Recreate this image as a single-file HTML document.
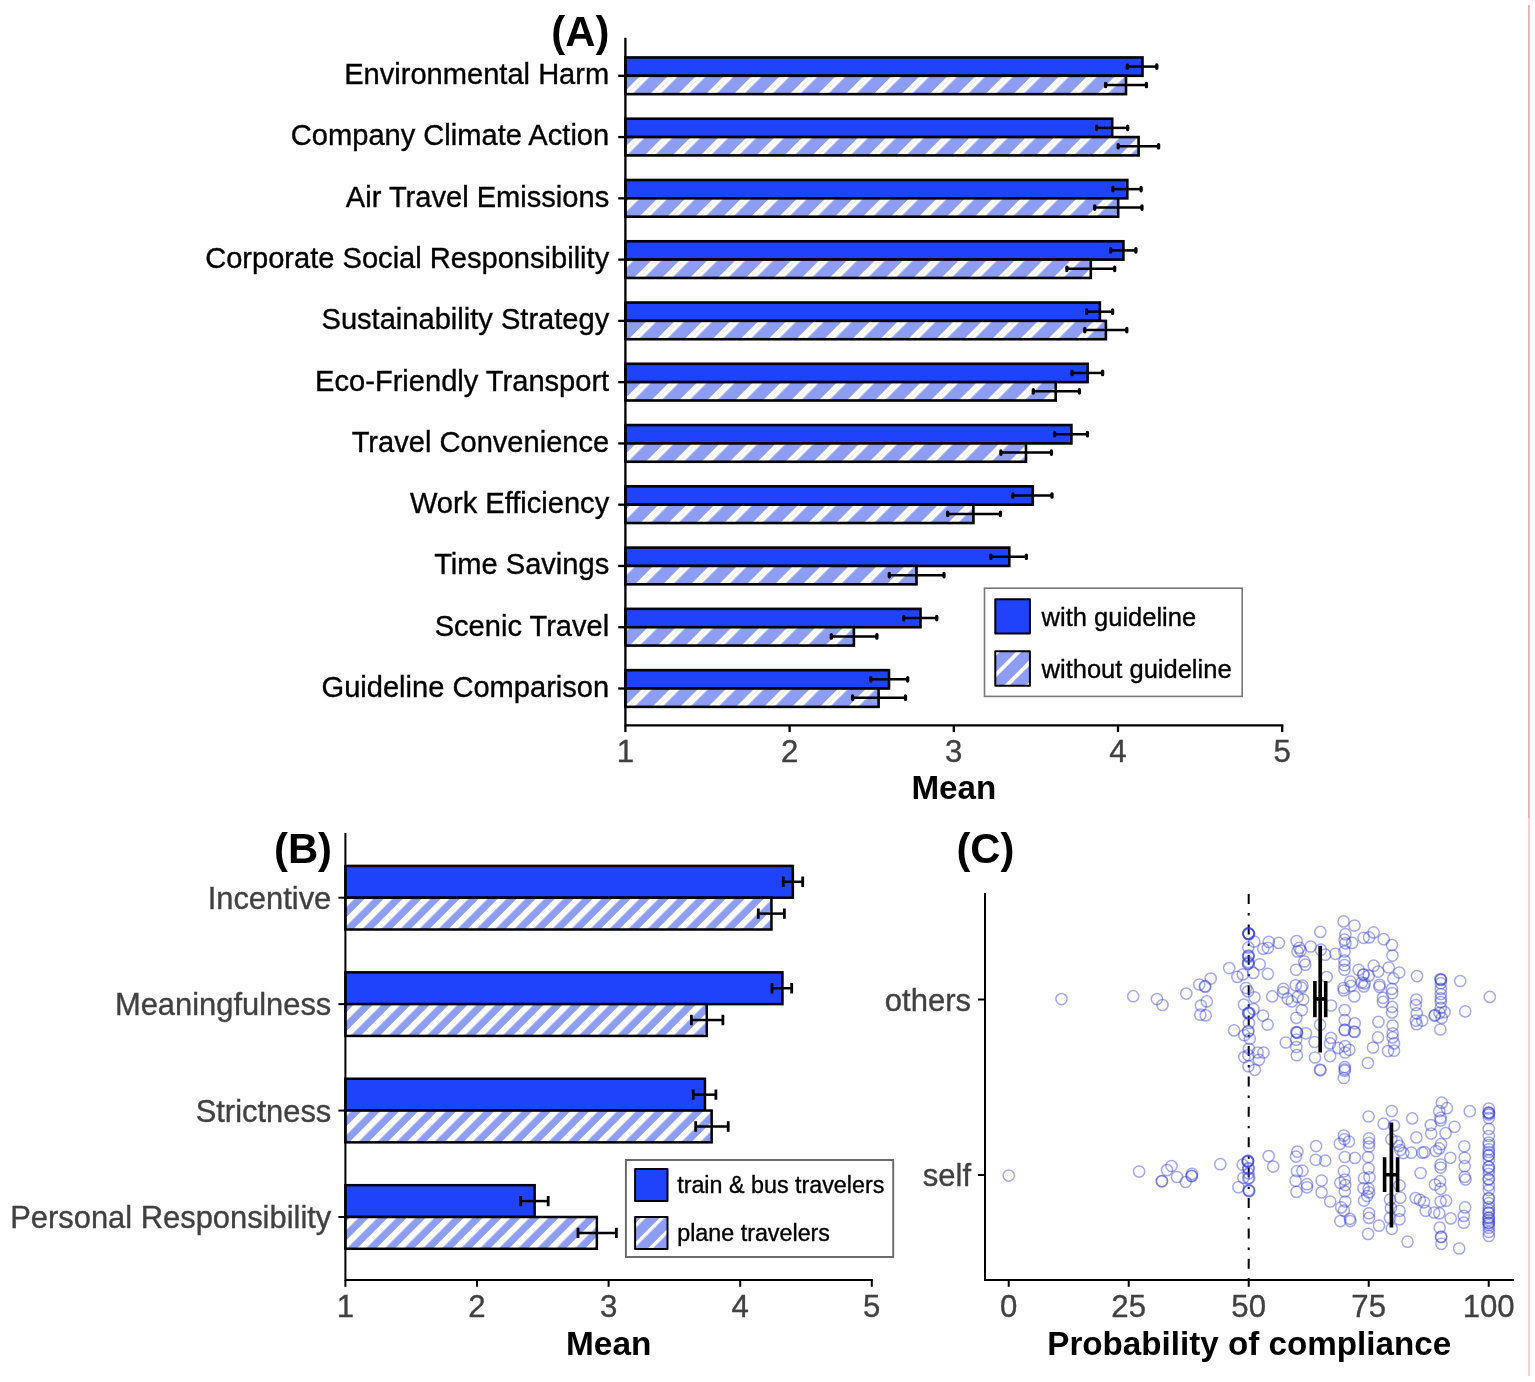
<!DOCTYPE html><html><head><meta charset="utf-8"><style>html,body{margin:0;padding:0;background:#fff;}svg{display:block;}</style></head><body><svg width="1535" height="1382" viewBox="0 0 1535 1382" font-family="Liberation Sans, Arial, Helvetica, sans-serif">
<style>.k{stroke:#000;stroke-width:0.35px}.g{stroke:#404040;stroke-width:0.35px}</style>
<defs>
<pattern id="hA" patternUnits="userSpaceOnUse" x="12.304" y="0" width="19.764" height="40" patternTransform="rotate(45)"><rect x="-1" y="-1" width="21.764" height="42" fill="#8c9df3"/><rect x="0" y="-1" width="7.212" height="42" fill="#ffffff"/><rect x="3.256" y="-1" width="0.7" height="42" fill="#d6dabf" fill-opacity="0.7"/></pattern>
<pattern id="hAk" patternUnits="userSpaceOnUse" x="13.152" y="0" width="15.344" height="40" patternTransform="rotate(45)"><rect x="-1" y="-1" width="17.344" height="42" fill="#8c9df3"/><rect x="0" y="-1" width="3.889" height="42" fill="#ffffff"/></pattern>
<pattern id="hB" patternUnits="userSpaceOnUse" x="6.718" y="0" width="13.435" height="40" patternTransform="rotate(45)"><rect x="-1" y="-1" width="15.435" height="42" fill="#8c9df3"/><rect x="0" y="-1" width="6.223" height="42" fill="#ffffff"/></pattern>
<pattern id="hBk" patternUnits="userSpaceOnUse" x="11.526" y="0" width="13.294" height="40" patternTransform="rotate(45)"><rect x="-1" y="-1" width="15.294" height="42" fill="#8c9df3"/><rect x="0" y="-1" width="3.394" height="42" fill="#ffffff"/></pattern>
</defs>
<rect width="1535" height="1382" fill="#ffffff"/>
<rect x="625.40" y="57.45" width="517.10" height="18.35" fill="#1f43fa" stroke="#000" stroke-width="2.6"/>
<rect x="625.40" y="75.80" width="500.60" height="18.35" fill="url(#hA)" stroke="#000" stroke-width="2.6"/>
<rect x="625.40" y="118.72" width="486.80" height="18.35" fill="#1f43fa" stroke="#000" stroke-width="2.6"/>
<rect x="625.40" y="137.07" width="513.20" height="18.35" fill="url(#hA)" stroke="#000" stroke-width="2.6"/>
<rect x="625.40" y="179.99" width="501.90" height="18.35" fill="#1f43fa" stroke="#000" stroke-width="2.6"/>
<rect x="625.40" y="198.34" width="492.80" height="18.35" fill="url(#hA)" stroke="#000" stroke-width="2.6"/>
<rect x="625.40" y="241.26" width="498.00" height="18.35" fill="#1f43fa" stroke="#000" stroke-width="2.6"/>
<rect x="625.40" y="259.61" width="465.40" height="18.35" fill="url(#hA)" stroke="#000" stroke-width="2.6"/>
<rect x="625.40" y="302.53" width="474.50" height="18.35" fill="#1f43fa" stroke="#000" stroke-width="2.6"/>
<rect x="625.40" y="320.88" width="480.50" height="18.35" fill="url(#hA)" stroke="#000" stroke-width="2.6"/>
<rect x="625.40" y="363.80" width="462.20" height="18.35" fill="#1f43fa" stroke="#000" stroke-width="2.6"/>
<rect x="625.40" y="382.15" width="430.30" height="18.35" fill="url(#hA)" stroke="#000" stroke-width="2.6"/>
<rect x="625.40" y="425.07" width="446.00" height="18.35" fill="#1f43fa" stroke="#000" stroke-width="2.6"/>
<rect x="625.40" y="443.42" width="400.60" height="18.35" fill="url(#hA)" stroke="#000" stroke-width="2.6"/>
<rect x="625.40" y="486.34" width="407.40" height="18.35" fill="#1f43fa" stroke="#000" stroke-width="2.6"/>
<rect x="625.40" y="504.69" width="348.00" height="18.35" fill="url(#hA)" stroke="#000" stroke-width="2.6"/>
<rect x="625.40" y="547.61" width="383.90" height="18.35" fill="#1f43fa" stroke="#000" stroke-width="2.6"/>
<rect x="625.40" y="565.96" width="291.10" height="18.35" fill="url(#hA)" stroke="#000" stroke-width="2.6"/>
<rect x="625.40" y="608.88" width="295.10" height="18.35" fill="#1f43fa" stroke="#000" stroke-width="2.6"/>
<rect x="625.40" y="627.23" width="228.50" height="18.35" fill="url(#hA)" stroke="#000" stroke-width="2.6"/>
<rect x="625.40" y="670.15" width="263.60" height="18.35" fill="#1f43fa" stroke="#000" stroke-width="2.6"/>
<rect x="625.40" y="688.50" width="253.20" height="18.35" fill="url(#hA)" stroke="#000" stroke-width="2.6"/>
<path d="M1127.30 66.60H1156.80" stroke="#000" stroke-width="2.5" fill="none"/>
<path d="M1127.30 64.90V68.30M1156.80 64.90V68.30" stroke="#000" stroke-width="3.3" stroke-linecap="round" fill="none"/>
<path d="M1105.60 85.00H1146.40" stroke="#000" stroke-width="2.5" fill="none"/>
<path d="M1105.60 83.30V86.70M1146.40 83.30V86.70" stroke="#000" stroke-width="3.3" stroke-linecap="round" fill="none"/>
<path d="M1096.50 127.87H1127.70" stroke="#000" stroke-width="2.5" fill="none"/>
<path d="M1096.50 126.17V129.57M1127.70 126.17V129.57" stroke="#000" stroke-width="3.3" stroke-linecap="round" fill="none"/>
<path d="M1118.20 146.27H1158.60" stroke="#000" stroke-width="2.5" fill="none"/>
<path d="M1118.20 144.57V147.97M1158.60 144.57V147.97" stroke="#000" stroke-width="3.3" stroke-linecap="round" fill="none"/>
<path d="M1112.90 189.14H1141.10" stroke="#000" stroke-width="2.5" fill="none"/>
<path d="M1112.90 187.44V190.84M1141.10 187.44V190.84" stroke="#000" stroke-width="3.3" stroke-linecap="round" fill="none"/>
<path d="M1094.70 207.54H1142.00" stroke="#000" stroke-width="2.5" fill="none"/>
<path d="M1094.70 205.84V209.24M1142.00 205.84V209.24" stroke="#000" stroke-width="3.3" stroke-linecap="round" fill="none"/>
<path d="M1110.70 250.41H1135.90" stroke="#000" stroke-width="2.5" fill="none"/>
<path d="M1110.70 248.71V252.11M1135.90 248.71V252.11" stroke="#000" stroke-width="3.3" stroke-linecap="round" fill="none"/>
<path d="M1066.90 268.81H1114.70" stroke="#000" stroke-width="2.5" fill="none"/>
<path d="M1066.90 267.11V270.51M1114.70 267.11V270.51" stroke="#000" stroke-width="3.3" stroke-linecap="round" fill="none"/>
<path d="M1086.60 311.68H1112.60" stroke="#000" stroke-width="2.5" fill="none"/>
<path d="M1086.60 309.98V313.38M1112.60 309.98V313.38" stroke="#000" stroke-width="3.3" stroke-linecap="round" fill="none"/>
<path d="M1084.80 330.08H1126.80" stroke="#000" stroke-width="2.5" fill="none"/>
<path d="M1084.80 328.38V331.78M1126.80 328.38V331.78" stroke="#000" stroke-width="3.3" stroke-linecap="round" fill="none"/>
<path d="M1072.00 372.95H1102.60" stroke="#000" stroke-width="2.5" fill="none"/>
<path d="M1072.00 371.25V374.65M1102.60 371.25V374.65" stroke="#000" stroke-width="3.3" stroke-linecap="round" fill="none"/>
<path d="M1033.30 391.35H1079.40" stroke="#000" stroke-width="2.5" fill="none"/>
<path d="M1033.30 389.65V393.05M1079.40 389.65V393.05" stroke="#000" stroke-width="3.3" stroke-linecap="round" fill="none"/>
<path d="M1054.60 434.22H1087.40" stroke="#000" stroke-width="2.5" fill="none"/>
<path d="M1054.60 432.52V435.92M1087.40 432.52V435.92" stroke="#000" stroke-width="3.3" stroke-linecap="round" fill="none"/>
<path d="M1000.90 452.62H1051.40" stroke="#000" stroke-width="2.5" fill="none"/>
<path d="M1000.90 450.92V454.32M1051.40 450.92V454.32" stroke="#000" stroke-width="3.3" stroke-linecap="round" fill="none"/>
<path d="M1012.90 495.49H1052.00" stroke="#000" stroke-width="2.5" fill="none"/>
<path d="M1012.90 493.79V497.19M1052.00 493.79V497.19" stroke="#000" stroke-width="3.3" stroke-linecap="round" fill="none"/>
<path d="M947.70 513.89H1000.40" stroke="#000" stroke-width="2.5" fill="none"/>
<path d="M947.70 512.19V515.59M1000.40 512.19V515.59" stroke="#000" stroke-width="3.3" stroke-linecap="round" fill="none"/>
<path d="M990.90 556.76H1026.30" stroke="#000" stroke-width="2.5" fill="none"/>
<path d="M990.90 555.06V558.46M1026.30 555.06V558.46" stroke="#000" stroke-width="3.3" stroke-linecap="round" fill="none"/>
<path d="M889.30 575.16H944.00" stroke="#000" stroke-width="2.5" fill="none"/>
<path d="M889.30 573.46V576.86M944.00 573.46V576.86" stroke="#000" stroke-width="3.3" stroke-linecap="round" fill="none"/>
<path d="M903.80 618.03H936.80" stroke="#000" stroke-width="2.5" fill="none"/>
<path d="M903.80 616.33V619.73M936.80 616.33V619.73" stroke="#000" stroke-width="3.3" stroke-linecap="round" fill="none"/>
<path d="M831.30 636.43H876.90" stroke="#000" stroke-width="2.5" fill="none"/>
<path d="M831.30 634.73V638.13M876.90 634.73V638.13" stroke="#000" stroke-width="3.3" stroke-linecap="round" fill="none"/>
<path d="M870.80 679.30H907.70" stroke="#000" stroke-width="2.5" fill="none"/>
<path d="M870.80 677.60V681.00M907.70 677.60V681.00" stroke="#000" stroke-width="3.3" stroke-linecap="round" fill="none"/>
<path d="M852.60 697.70H905.50" stroke="#000" stroke-width="2.5" fill="none"/>
<path d="M852.60 696.00V699.40M905.50 696.00V699.40" stroke="#000" stroke-width="3.3" stroke-linecap="round" fill="none"/>
<path d="M625.4 39.0V725.3H1282.20" stroke="#000" stroke-width="2.3" fill="none" stroke-linecap="square"/>
<path d="M625.40 725.3V732.10" stroke="#000" stroke-width="2.3"/>
<text x="625.40" y="762.3" font-size="31.2" class="g" fill="#404040" text-anchor="middle">1</text>
<path d="M789.60 725.3V732.10" stroke="#000" stroke-width="2.3"/>
<text x="789.60" y="762.3" font-size="31.2" class="g" fill="#404040" text-anchor="middle">2</text>
<path d="M953.80 725.3V732.10" stroke="#000" stroke-width="2.3"/>
<text x="953.80" y="762.3" font-size="31.2" class="g" fill="#404040" text-anchor="middle">3</text>
<path d="M1118.00 725.3V732.10" stroke="#000" stroke-width="2.3"/>
<text x="1118.00" y="762.3" font-size="31.2" class="g" fill="#404040" text-anchor="middle">4</text>
<path d="M1282.20 725.3V732.10" stroke="#000" stroke-width="2.3"/>
<text x="1282.20" y="762.3" font-size="31.2" class="g" fill="#404040" text-anchor="middle">5</text>
<path d="M618.20 75.80H625.4" stroke="#000" stroke-width="2.3"/>
<text class="k" transform="translate(609.2 84.20) scale(1 1.03)" font-size="29.1" fill="#000" text-anchor="end">Environmental Harm</text>
<path d="M618.20 137.07H625.4" stroke="#000" stroke-width="2.3"/>
<text class="k" transform="translate(609.2 145.47) scale(1 1.03)" font-size="29.1" fill="#000" text-anchor="end">Company Climate Action</text>
<path d="M618.20 198.34H625.4" stroke="#000" stroke-width="2.3"/>
<text class="k" transform="translate(609.2 206.74) scale(1 1.03)" font-size="29.1" fill="#000" text-anchor="end">Air Travel Emissions</text>
<path d="M618.20 259.61H625.4" stroke="#000" stroke-width="2.3"/>
<text class="k" transform="translate(609.2 268.01) scale(1 1.03)" font-size="29.1" fill="#000" text-anchor="end">Corporate Social Responsibility</text>
<path d="M618.20 320.88H625.4" stroke="#000" stroke-width="2.3"/>
<text class="k" transform="translate(609.2 329.28) scale(1 1.03)" font-size="29.1" fill="#000" text-anchor="end">Sustainability Strategy</text>
<path d="M618.20 382.15H625.4" stroke="#000" stroke-width="2.3"/>
<text class="k" transform="translate(609.2 390.55) scale(1 1.03)" font-size="29.1" fill="#000" text-anchor="end">Eco-Friendly Transport</text>
<path d="M618.20 443.42H625.4" stroke="#000" stroke-width="2.3"/>
<text class="k" transform="translate(609.2 451.82) scale(1 1.03)" font-size="29.1" fill="#000" text-anchor="end">Travel Convenience</text>
<path d="M618.20 504.69H625.4" stroke="#000" stroke-width="2.3"/>
<text class="k" transform="translate(609.2 513.09) scale(1 1.03)" font-size="29.1" fill="#000" text-anchor="end">Work Efficiency</text>
<path d="M618.20 565.96H625.4" stroke="#000" stroke-width="2.3"/>
<text class="k" transform="translate(609.2 574.36) scale(1 1.03)" font-size="29.1" fill="#000" text-anchor="end">Time Savings</text>
<path d="M618.20 627.23H625.4" stroke="#000" stroke-width="2.3"/>
<text class="k" transform="translate(609.2 635.63) scale(1 1.03)" font-size="29.1" fill="#000" text-anchor="end">Scenic Travel</text>
<path d="M618.20 688.50H625.4" stroke="#000" stroke-width="2.3"/>
<text class="k" transform="translate(609.2 696.90) scale(1 1.03)" font-size="29.1" fill="#000" text-anchor="end">Guideline Comparison</text>
<text x="953.8" y="799.2" font-size="33.2" font-weight="bold" fill="#000" text-anchor="middle">Mean</text>
<text x="580.3" y="45.6" font-size="41.8" font-weight="bold" fill="#000" text-anchor="middle">(A)</text>
<rect x="984.5" y="588.2" width="257.7" height="108.2" fill="#fff" stroke="#777" stroke-width="1.6"/>
<rect x="995.3" y="599.2" width="34.6" height="34.2" fill="#1f43fa" stroke="#000" stroke-width="2" stroke-linejoin="round"/>
<rect x="995.3" y="651.3" width="34.6" height="34.5" fill="url(#hAk)" stroke="#000" stroke-width="2" stroke-linejoin="round"/>
<text x="1041.6" y="625.6" class="k" font-size="25.5" fill="#000">with guideline</text>
<text x="1041.6" y="677.6" class="k" font-size="25.5" fill="#000">without guideline</text>
<rect x="345.40" y="865.90" width="447.45" height="31.80" fill="#1f43fa" stroke="#000" stroke-width="2.5"/>
<rect x="345.40" y="897.70" width="426.05" height="31.80" fill="url(#hB)" stroke="#000" stroke-width="2.5"/>
<rect x="345.40" y="972.33" width="437.05" height="31.80" fill="#1f43fa" stroke="#000" stroke-width="2.5"/>
<rect x="345.40" y="1004.13" width="361.35" height="31.80" fill="url(#hB)" stroke="#000" stroke-width="2.5"/>
<rect x="345.40" y="1078.76" width="359.55" height="31.80" fill="#1f43fa" stroke="#000" stroke-width="2.5"/>
<rect x="345.40" y="1110.56" width="366.25" height="31.80" fill="url(#hB)" stroke="#000" stroke-width="2.5"/>
<rect x="345.40" y="1185.19" width="189.25" height="31.80" fill="#1f43fa" stroke="#000" stroke-width="2.5"/>
<rect x="345.40" y="1216.99" width="251.45" height="31.80" fill="url(#hB)" stroke="#000" stroke-width="2.5"/>
<path d="M783.20 881.80H802.70" stroke="#000" stroke-width="2.5" fill="none"/>
<path d="M783.20 876.60V887.00M802.70 876.60V887.00" stroke="#000" stroke-width="2.8" fill="none"/>
<path d="M758.30 913.60H784.40" stroke="#000" stroke-width="2.5" fill="none"/>
<path d="M758.30 908.40V918.80M784.40 908.40V918.80" stroke="#000" stroke-width="2.8" fill="none"/>
<path d="M772.00 988.23H791.70" stroke="#000" stroke-width="2.5" fill="none"/>
<path d="M772.00 983.03V993.43M791.70 983.03V993.43" stroke="#000" stroke-width="2.8" fill="none"/>
<path d="M691.40 1020.03H722.90" stroke="#000" stroke-width="2.5" fill="none"/>
<path d="M691.40 1014.83V1025.23M722.90 1014.83V1025.23" stroke="#000" stroke-width="2.8" fill="none"/>
<path d="M693.20 1094.66H715.90" stroke="#000" stroke-width="2.5" fill="none"/>
<path d="M693.20 1089.46V1099.86M715.90 1089.46V1099.86" stroke="#000" stroke-width="2.8" fill="none"/>
<path d="M695.70 1126.46H728.20" stroke="#000" stroke-width="2.5" fill="none"/>
<path d="M695.70 1121.26V1131.66M728.20 1121.26V1131.66" stroke="#000" stroke-width="2.8" fill="none"/>
<path d="M520.80 1201.09H548.20" stroke="#000" stroke-width="2.5" fill="none"/>
<path d="M520.80 1195.89V1206.29M548.20 1195.89V1206.29" stroke="#000" stroke-width="2.8" fill="none"/>
<path d="M578.00 1232.89H616.40" stroke="#000" stroke-width="2.5" fill="none"/>
<path d="M578.00 1227.69V1238.09M616.40 1227.69V1238.09" stroke="#000" stroke-width="2.8" fill="none"/>
<path d="M345.4 834.0V1280.0H871.80" stroke="#000" stroke-width="2.0" fill="none" stroke-linecap="square"/>
<path d="M345.40 1280.0V1286.80" stroke="#000" stroke-width="2.0"/>
<text x="345.40" y="1317" font-size="31.2" class="g" fill="#404040" text-anchor="middle">1</text>
<path d="M477.00 1280.0V1286.80" stroke="#000" stroke-width="2.0"/>
<text x="477.00" y="1317" font-size="31.2" class="g" fill="#404040" text-anchor="middle">2</text>
<path d="M608.60 1280.0V1286.80" stroke="#000" stroke-width="2.0"/>
<text x="608.60" y="1317" font-size="31.2" class="g" fill="#404040" text-anchor="middle">3</text>
<path d="M740.20 1280.0V1286.80" stroke="#000" stroke-width="2.0"/>
<text x="740.20" y="1317" font-size="31.2" class="g" fill="#404040" text-anchor="middle">4</text>
<path d="M871.80 1280.0V1286.80" stroke="#000" stroke-width="2.0"/>
<text x="871.80" y="1317" font-size="31.2" class="g" fill="#404040" text-anchor="middle">5</text>
<path d="M338.40 897.70H345.4" stroke="#000" stroke-width="2.0"/>
<text x="331.3" y="908.70" font-size="30.9" class="g" fill="#404040" text-anchor="end">Incentive</text>
<path d="M338.40 1004.13H345.4" stroke="#000" stroke-width="2.0"/>
<text x="331.3" y="1015.13" font-size="30.9" class="g" fill="#404040" text-anchor="end">Meaningfulness</text>
<path d="M338.40 1110.56H345.4" stroke="#000" stroke-width="2.0"/>
<text x="331.3" y="1121.56" font-size="30.9" class="g" fill="#404040" text-anchor="end">Strictness</text>
<path d="M338.40 1216.99H345.4" stroke="#000" stroke-width="2.0"/>
<text x="331.3" y="1227.99" font-size="30.9" class="g" fill="#404040" text-anchor="end">Personal Responsibility</text>
<text x="608.7" y="1354.8" font-size="33.4" font-weight="bold" fill="#000" text-anchor="middle">Mean</text>
<text x="303" y="863" font-size="41.8" font-weight="bold" fill="#000" text-anchor="middle">(B)</text>
<rect x="625.9" y="1160" width="267.3" height="97" fill="#fff" stroke="#666" stroke-width="1.9"/>
<rect x="635.1" y="1169" width="32.4" height="32" fill="#1f43fa" stroke="#000" stroke-width="2" stroke-linejoin="round"/>
<rect x="635.1" y="1217.1" width="32.4" height="32" fill="url(#hBk)" stroke="#000" stroke-width="2" stroke-linejoin="round"/>
<text x="677.2" y="1193.1" class="k" font-size="23.3" fill="#000">train &amp; bus travelers</text>
<text x="677.2" y="1240.6" class="k" font-size="23.3" fill="#000">plane travelers</text>
<path d="M985.0 894.0V1280.0H1513" stroke="#000" stroke-width="2.0" fill="none" stroke-linecap="square"/>
<path d="M1008.70 1280.0V1286.80" stroke="#000" stroke-width="2.0"/>
<text x="1008.70" y="1317.2" font-size="31.2" class="g" fill="#404040" text-anchor="middle">0</text>
<path d="M1128.70 1280.0V1286.80" stroke="#000" stroke-width="2.0"/>
<text x="1128.70" y="1317.2" font-size="31.2" class="g" fill="#404040" text-anchor="middle">25</text>
<path d="M1248.70 1280.0V1286.80" stroke="#000" stroke-width="2.0"/>
<text x="1248.70" y="1317.2" font-size="31.2" class="g" fill="#404040" text-anchor="middle">50</text>
<path d="M1368.70 1280.0V1286.80" stroke="#000" stroke-width="2.0"/>
<text x="1368.70" y="1317.2" font-size="31.2" class="g" fill="#404040" text-anchor="middle">75</text>
<path d="M1488.70 1280.0V1286.80" stroke="#000" stroke-width="2.0"/>
<text x="1488.70" y="1317.2" font-size="31.2" class="g" fill="#404040" text-anchor="middle">100</text>
<path d="M1248.70 894.0V1280.0" stroke="#000" stroke-width="2.0" stroke-dasharray="10 9.1 2.4 8.9"/>
<path d="M978.00 999.5H985.0" stroke="#000" stroke-width="2.0"/>
<text x="971" y="1010.70" font-size="31" class="g" fill="#404040" text-anchor="end">others</text>
<path d="M978.00 1175.0H985.0" stroke="#000" stroke-width="2.0"/>
<text x="971" y="1186.20" font-size="31" class="g" fill="#404040" text-anchor="end">self</text>
<text x="1249.2" y="1354.8" font-size="33.2" font-weight="bold" fill="#000" text-anchor="middle">Probability of compliance</text>
<text x="985.4" y="863.4" font-size="41.8" font-weight="bold" fill="#000" text-anchor="middle">(C)</text>
<circle cx="1061.5" cy="999.1" r="5.6" fill="none" stroke="#3241d7" stroke-opacity="0.45" stroke-width="1.5"/>
<circle cx="1133.2" cy="996.2" r="5.6" fill="none" stroke="#3241d7" stroke-opacity="0.45" stroke-width="1.5"/>
<circle cx="1156.9" cy="999.1" r="5.6" fill="none" stroke="#3241d7" stroke-opacity="0.45" stroke-width="1.5"/>
<circle cx="1162.5" cy="1005.0" r="5.6" fill="none" stroke="#3241d7" stroke-opacity="0.45" stroke-width="1.5"/>
<circle cx="1186.3" cy="993.6" r="5.6" fill="none" stroke="#3241d7" stroke-opacity="0.45" stroke-width="1.5"/>
<circle cx="1199.2" cy="984.5" r="5.6" fill="none" stroke="#3241d7" stroke-opacity="0.45" stroke-width="1.5"/>
<circle cx="1205.2" cy="986.7" r="5.6" fill="none" stroke="#3241d7" stroke-opacity="0.45" stroke-width="1.5"/>
<circle cx="1210.7" cy="978.6" r="5.6" fill="none" stroke="#3241d7" stroke-opacity="0.45" stroke-width="1.5"/>
<circle cx="1206.8" cy="1001.4" r="5.6" fill="none" stroke="#3241d7" stroke-opacity="0.45" stroke-width="1.5"/>
<circle cx="1200.9" cy="1005.6" r="5.6" fill="none" stroke="#3241d7" stroke-opacity="0.45" stroke-width="1.5"/>
<circle cx="1200.3" cy="1014.7" r="5.6" fill="none" stroke="#3241d7" stroke-opacity="0.45" stroke-width="1.5"/>
<circle cx="1205.7" cy="1015.4" r="5.6" fill="none" stroke="#3241d7" stroke-opacity="0.45" stroke-width="1.5"/>
<circle cx="1229.2" cy="968.1" r="5.6" fill="none" stroke="#3241d7" stroke-opacity="0.45" stroke-width="1.5"/>
<circle cx="1237.4" cy="976.9" r="5.6" fill="none" stroke="#3241d7" stroke-opacity="0.45" stroke-width="1.5"/>
<circle cx="1242.8" cy="974.4" r="5.6" fill="none" stroke="#3241d7" stroke-opacity="0.45" stroke-width="1.5"/>
<circle cx="1234.1" cy="1030.4" r="5.6" fill="none" stroke="#3241d7" stroke-opacity="0.45" stroke-width="1.5"/>
<circle cx="1248.7" cy="933.7" r="5.6" fill="none" stroke="#3241d7" stroke-opacity="0.45" stroke-width="1.5"/>
<circle cx="1248.5" cy="933.2" r="5.6" fill="none" stroke="#3241d7" stroke-opacity="0.45" stroke-width="1.5"/>
<circle cx="1249.0" cy="934.3" r="5.6" fill="none" stroke="#3241d7" stroke-opacity="0.45" stroke-width="1.5"/>
<circle cx="1254.2" cy="941.5" r="5.6" fill="none" stroke="#3241d7" stroke-opacity="0.45" stroke-width="1.5"/>
<circle cx="1248.3" cy="947.4" r="5.6" fill="none" stroke="#3241d7" stroke-opacity="0.45" stroke-width="1.5"/>
<circle cx="1248.3" cy="956.1" r="5.6" fill="none" stroke="#3241d7" stroke-opacity="0.45" stroke-width="1.5"/>
<circle cx="1248.6" cy="955.6" r="5.6" fill="none" stroke="#3241d7" stroke-opacity="0.45" stroke-width="1.5"/>
<circle cx="1248.3" cy="963.4" r="5.6" fill="none" stroke="#3241d7" stroke-opacity="0.45" stroke-width="1.5"/>
<circle cx="1248.0" cy="963.9" r="5.6" fill="none" stroke="#3241d7" stroke-opacity="0.45" stroke-width="1.5"/>
<circle cx="1259.7" cy="964.3" r="5.6" fill="none" stroke="#3241d7" stroke-opacity="0.45" stroke-width="1.5"/>
<circle cx="1253.3" cy="972.9" r="5.6" fill="none" stroke="#3241d7" stroke-opacity="0.45" stroke-width="1.5"/>
<circle cx="1267.9" cy="973.9" r="5.6" fill="none" stroke="#3241d7" stroke-opacity="0.45" stroke-width="1.5"/>
<circle cx="1263.3" cy="948.8" r="5.6" fill="none" stroke="#3241d7" stroke-opacity="0.45" stroke-width="1.5"/>
<circle cx="1267.9" cy="947.9" r="5.6" fill="none" stroke="#3241d7" stroke-opacity="0.45" stroke-width="1.5"/>
<circle cx="1268.8" cy="941.9" r="5.6" fill="none" stroke="#3241d7" stroke-opacity="0.45" stroke-width="1.5"/>
<circle cx="1278.8" cy="942.9" r="5.6" fill="none" stroke="#3241d7" stroke-opacity="0.45" stroke-width="1.5"/>
<circle cx="1246.0" cy="988.0" r="5.6" fill="none" stroke="#3241d7" stroke-opacity="0.45" stroke-width="1.5"/>
<circle cx="1248.0" cy="991.4" r="5.6" fill="none" stroke="#3241d7" stroke-opacity="0.45" stroke-width="1.5"/>
<circle cx="1254.4" cy="997.3" r="5.6" fill="none" stroke="#3241d7" stroke-opacity="0.45" stroke-width="1.5"/>
<circle cx="1243.9" cy="1004.6" r="5.6" fill="none" stroke="#3241d7" stroke-opacity="0.45" stroke-width="1.5"/>
<circle cx="1249.4" cy="1012.8" r="5.6" fill="none" stroke="#3241d7" stroke-opacity="0.45" stroke-width="1.5"/>
<circle cx="1249.0" cy="1013.3" r="5.6" fill="none" stroke="#3241d7" stroke-opacity="0.45" stroke-width="1.5"/>
<circle cx="1253.5" cy="1009.2" r="5.6" fill="none" stroke="#3241d7" stroke-opacity="0.45" stroke-width="1.5"/>
<circle cx="1263.0" cy="1015.6" r="5.6" fill="none" stroke="#3241d7" stroke-opacity="0.45" stroke-width="1.5"/>
<circle cx="1267.6" cy="1024.7" r="5.6" fill="none" stroke="#3241d7" stroke-opacity="0.45" stroke-width="1.5"/>
<circle cx="1248.9" cy="1022.9" r="5.6" fill="none" stroke="#3241d7" stroke-opacity="0.45" stroke-width="1.5"/>
<circle cx="1248.0" cy="1031.5" r="5.6" fill="none" stroke="#3241d7" stroke-opacity="0.45" stroke-width="1.5"/>
<circle cx="1248.4" cy="1031.0" r="5.6" fill="none" stroke="#3241d7" stroke-opacity="0.45" stroke-width="1.5"/>
<circle cx="1244.3" cy="1035.2" r="5.6" fill="none" stroke="#3241d7" stroke-opacity="0.45" stroke-width="1.5"/>
<circle cx="1249.8" cy="1038.8" r="5.6" fill="none" stroke="#3241d7" stroke-opacity="0.45" stroke-width="1.5"/>
<circle cx="1248.9" cy="1048.8" r="5.6" fill="none" stroke="#3241d7" stroke-opacity="0.45" stroke-width="1.5"/>
<circle cx="1244.3" cy="1057.1" r="5.6" fill="none" stroke="#3241d7" stroke-opacity="0.45" stroke-width="1.5"/>
<circle cx="1248.4" cy="1055.2" r="5.6" fill="none" stroke="#3241d7" stroke-opacity="0.45" stroke-width="1.5"/>
<circle cx="1257.6" cy="1052.5" r="5.6" fill="none" stroke="#3241d7" stroke-opacity="0.45" stroke-width="1.5"/>
<circle cx="1263.5" cy="1052.5" r="5.6" fill="none" stroke="#3241d7" stroke-opacity="0.45" stroke-width="1.5"/>
<circle cx="1258.9" cy="1059.8" r="5.6" fill="none" stroke="#3241d7" stroke-opacity="0.45" stroke-width="1.5"/>
<circle cx="1248.4" cy="1066.2" r="5.6" fill="none" stroke="#3241d7" stroke-opacity="0.45" stroke-width="1.5"/>
<circle cx="1254.8" cy="1069.8" r="5.6" fill="none" stroke="#3241d7" stroke-opacity="0.45" stroke-width="1.5"/>
<circle cx="1296.6" cy="941.0" r="5.6" fill="none" stroke="#3241d7" stroke-opacity="0.45" stroke-width="1.5"/>
<circle cx="1299.3" cy="947.9" r="5.6" fill="none" stroke="#3241d7" stroke-opacity="0.45" stroke-width="1.5"/>
<circle cx="1297.5" cy="951.5" r="5.6" fill="none" stroke="#3241d7" stroke-opacity="0.45" stroke-width="1.5"/>
<circle cx="1300.7" cy="950.6" r="5.6" fill="none" stroke="#3241d7" stroke-opacity="0.45" stroke-width="1.5"/>
<circle cx="1310.7" cy="946.5" r="5.6" fill="none" stroke="#3241d7" stroke-opacity="0.45" stroke-width="1.5"/>
<circle cx="1320.3" cy="931.9" r="5.6" fill="none" stroke="#3241d7" stroke-opacity="0.45" stroke-width="1.5"/>
<circle cx="1320.8" cy="949.7" r="5.6" fill="none" stroke="#3241d7" stroke-opacity="0.45" stroke-width="1.5"/>
<circle cx="1325.3" cy="954.7" r="5.6" fill="none" stroke="#3241d7" stroke-opacity="0.45" stroke-width="1.5"/>
<circle cx="1335.4" cy="953.8" r="5.6" fill="none" stroke="#3241d7" stroke-opacity="0.45" stroke-width="1.5"/>
<circle cx="1304.3" cy="961.5" r="5.6" fill="none" stroke="#3241d7" stroke-opacity="0.45" stroke-width="1.5"/>
<circle cx="1305.3" cy="964.7" r="5.6" fill="none" stroke="#3241d7" stroke-opacity="0.45" stroke-width="1.5"/>
<circle cx="1296.1" cy="969.8" r="5.6" fill="none" stroke="#3241d7" stroke-opacity="0.45" stroke-width="1.5"/>
<circle cx="1326.7" cy="977.1" r="5.6" fill="none" stroke="#3241d7" stroke-opacity="0.45" stroke-width="1.5"/>
<circle cx="1295.7" cy="985.3" r="5.6" fill="none" stroke="#3241d7" stroke-opacity="0.45" stroke-width="1.5"/>
<circle cx="1302.5" cy="985.7" r="5.6" fill="none" stroke="#3241d7" stroke-opacity="0.45" stroke-width="1.5"/>
<circle cx="1283.4" cy="988.9" r="5.6" fill="none" stroke="#3241d7" stroke-opacity="0.45" stroke-width="1.5"/>
<circle cx="1272.2" cy="996.4" r="5.6" fill="none" stroke="#3241d7" stroke-opacity="0.45" stroke-width="1.5"/>
<circle cx="1283.1" cy="992.3" r="5.6" fill="none" stroke="#3241d7" stroke-opacity="0.45" stroke-width="1.5"/>
<circle cx="1287.7" cy="998.7" r="5.6" fill="none" stroke="#3241d7" stroke-opacity="0.45" stroke-width="1.5"/>
<circle cx="1291.8" cy="1001.4" r="5.6" fill="none" stroke="#3241d7" stroke-opacity="0.45" stroke-width="1.5"/>
<circle cx="1297.7" cy="996.9" r="5.6" fill="none" stroke="#3241d7" stroke-opacity="0.45" stroke-width="1.5"/>
<circle cx="1303.2" cy="999.6" r="5.6" fill="none" stroke="#3241d7" stroke-opacity="0.45" stroke-width="1.5"/>
<circle cx="1301.3" cy="987.7" r="5.6" fill="none" stroke="#3241d7" stroke-opacity="0.45" stroke-width="1.5"/>
<circle cx="1301.8" cy="1010.1" r="5.6" fill="none" stroke="#3241d7" stroke-opacity="0.45" stroke-width="1.5"/>
<circle cx="1296.3" cy="1017.8" r="5.6" fill="none" stroke="#3241d7" stroke-opacity="0.45" stroke-width="1.5"/>
<circle cx="1296.8" cy="1032.4" r="5.6" fill="none" stroke="#3241d7" stroke-opacity="0.45" stroke-width="1.5"/>
<circle cx="1296.4" cy="1032.0" r="5.6" fill="none" stroke="#3241d7" stroke-opacity="0.45" stroke-width="1.5"/>
<circle cx="1305.9" cy="1033.3" r="5.6" fill="none" stroke="#3241d7" stroke-opacity="0.45" stroke-width="1.5"/>
<circle cx="1285.8" cy="1042.5" r="5.6" fill="none" stroke="#3241d7" stroke-opacity="0.45" stroke-width="1.5"/>
<circle cx="1296.3" cy="1039.7" r="5.6" fill="none" stroke="#3241d7" stroke-opacity="0.45" stroke-width="1.5"/>
<circle cx="1296.3" cy="1047.0" r="5.6" fill="none" stroke="#3241d7" stroke-opacity="0.45" stroke-width="1.5"/>
<circle cx="1296.8" cy="1055.2" r="5.6" fill="none" stroke="#3241d7" stroke-opacity="0.45" stroke-width="1.5"/>
<circle cx="1331.0" cy="1005.5" r="5.6" fill="none" stroke="#3241d7" stroke-opacity="0.45" stroke-width="1.5"/>
<circle cx="1320.1" cy="1024.7" r="5.6" fill="none" stroke="#3241d7" stroke-opacity="0.45" stroke-width="1.5"/>
<circle cx="1314.6" cy="1042.0" r="5.6" fill="none" stroke="#3241d7" stroke-opacity="0.45" stroke-width="1.5"/>
<circle cx="1331.0" cy="1037.9" r="5.6" fill="none" stroke="#3241d7" stroke-opacity="0.45" stroke-width="1.5"/>
<circle cx="1330.1" cy="1043.4" r="5.6" fill="none" stroke="#3241d7" stroke-opacity="0.45" stroke-width="1.5"/>
<circle cx="1330.1" cy="1056.1" r="5.6" fill="none" stroke="#3241d7" stroke-opacity="0.45" stroke-width="1.5"/>
<circle cx="1315.0" cy="1057.5" r="5.6" fill="none" stroke="#3241d7" stroke-opacity="0.45" stroke-width="1.5"/>
<circle cx="1320.5" cy="1070.3" r="5.6" fill="none" stroke="#3241d7" stroke-opacity="0.45" stroke-width="1.5"/>
<circle cx="1343.6" cy="921.4" r="5.6" fill="none" stroke="#3241d7" stroke-opacity="0.45" stroke-width="1.5"/>
<circle cx="1354.5" cy="925.5" r="5.6" fill="none" stroke="#3241d7" stroke-opacity="0.45" stroke-width="1.5"/>
<circle cx="1345.4" cy="934.2" r="5.6" fill="none" stroke="#3241d7" stroke-opacity="0.45" stroke-width="1.5"/>
<circle cx="1344.5" cy="939.7" r="5.6" fill="none" stroke="#3241d7" stroke-opacity="0.45" stroke-width="1.5"/>
<circle cx="1345.4" cy="943.3" r="5.6" fill="none" stroke="#3241d7" stroke-opacity="0.45" stroke-width="1.5"/>
<circle cx="1352.2" cy="942.9" r="5.6" fill="none" stroke="#3241d7" stroke-opacity="0.45" stroke-width="1.5"/>
<circle cx="1344.5" cy="951.5" r="5.6" fill="none" stroke="#3241d7" stroke-opacity="0.45" stroke-width="1.5"/>
<circle cx="1344.5" cy="960.6" r="5.6" fill="none" stroke="#3241d7" stroke-opacity="0.45" stroke-width="1.5"/>
<circle cx="1344.5" cy="965.2" r="5.6" fill="none" stroke="#3241d7" stroke-opacity="0.45" stroke-width="1.5"/>
<circle cx="1344.5" cy="969.8" r="5.6" fill="none" stroke="#3241d7" stroke-opacity="0.45" stroke-width="1.5"/>
<circle cx="1358.6" cy="969.8" r="5.6" fill="none" stroke="#3241d7" stroke-opacity="0.45" stroke-width="1.5"/>
<circle cx="1350.4" cy="981.6" r="5.6" fill="none" stroke="#3241d7" stroke-opacity="0.45" stroke-width="1.5"/>
<circle cx="1363.6" cy="937.8" r="5.6" fill="none" stroke="#3241d7" stroke-opacity="0.45" stroke-width="1.5"/>
<circle cx="1363.6" cy="974.3" r="5.6" fill="none" stroke="#3241d7" stroke-opacity="0.45" stroke-width="1.5"/>
<circle cx="1363.2" cy="974.8" r="5.6" fill="none" stroke="#3241d7" stroke-opacity="0.45" stroke-width="1.5"/>
<circle cx="1361.8" cy="982.5" r="5.6" fill="none" stroke="#3241d7" stroke-opacity="0.45" stroke-width="1.5"/>
<circle cx="1343.6" cy="988.0" r="5.6" fill="none" stroke="#3241d7" stroke-opacity="0.45" stroke-width="1.5"/>
<circle cx="1343.8" cy="990.5" r="5.6" fill="none" stroke="#3241d7" stroke-opacity="0.45" stroke-width="1.5"/>
<circle cx="1354.3" cy="996.4" r="5.6" fill="none" stroke="#3241d7" stroke-opacity="0.45" stroke-width="1.5"/>
<circle cx="1351.1" cy="985.9" r="5.6" fill="none" stroke="#3241d7" stroke-opacity="0.45" stroke-width="1.5"/>
<circle cx="1363.8" cy="986.4" r="5.6" fill="none" stroke="#3241d7" stroke-opacity="0.45" stroke-width="1.5"/>
<circle cx="1379.4" cy="986.8" r="5.6" fill="none" stroke="#3241d7" stroke-opacity="0.45" stroke-width="1.5"/>
<circle cx="1344.7" cy="1010.1" r="5.6" fill="none" stroke="#3241d7" stroke-opacity="0.45" stroke-width="1.5"/>
<circle cx="1344.7" cy="1020.1" r="5.6" fill="none" stroke="#3241d7" stroke-opacity="0.45" stroke-width="1.5"/>
<circle cx="1354.7" cy="1023.3" r="5.6" fill="none" stroke="#3241d7" stroke-opacity="0.45" stroke-width="1.5"/>
<circle cx="1344.7" cy="1029.7" r="5.6" fill="none" stroke="#3241d7" stroke-opacity="0.45" stroke-width="1.5"/>
<circle cx="1354.7" cy="1032.0" r="5.6" fill="none" stroke="#3241d7" stroke-opacity="0.45" stroke-width="1.5"/>
<circle cx="1345.1" cy="1046.1" r="5.6" fill="none" stroke="#3241d7" stroke-opacity="0.45" stroke-width="1.5"/>
<circle cx="1349.3" cy="1049.8" r="5.6" fill="none" stroke="#3241d7" stroke-opacity="0.45" stroke-width="1.5"/>
<circle cx="1338.3" cy="1047.9" r="5.6" fill="none" stroke="#3241d7" stroke-opacity="0.45" stroke-width="1.5"/>
<circle cx="1345.1" cy="1052.5" r="5.6" fill="none" stroke="#3241d7" stroke-opacity="0.45" stroke-width="1.5"/>
<circle cx="1344.7" cy="1067.1" r="5.6" fill="none" stroke="#3241d7" stroke-opacity="0.45" stroke-width="1.5"/>
<circle cx="1344.7" cy="1070.7" r="5.6" fill="none" stroke="#3241d7" stroke-opacity="0.45" stroke-width="1.5"/>
<circle cx="1343.8" cy="1078.0" r="5.6" fill="none" stroke="#3241d7" stroke-opacity="0.45" stroke-width="1.5"/>
<circle cx="1367.9" cy="1063.0" r="5.6" fill="none" stroke="#3241d7" stroke-opacity="0.45" stroke-width="1.5"/>
<circle cx="1373.0" cy="1047.5" r="5.6" fill="none" stroke="#3241d7" stroke-opacity="0.45" stroke-width="1.5"/>
<circle cx="1378.0" cy="1037.4" r="5.6" fill="none" stroke="#3241d7" stroke-opacity="0.45" stroke-width="1.5"/>
<circle cx="1378.4" cy="1021.9" r="5.6" fill="none" stroke="#3241d7" stroke-opacity="0.45" stroke-width="1.5"/>
<circle cx="1373.7" cy="932.4" r="5.6" fill="none" stroke="#3241d7" stroke-opacity="0.45" stroke-width="1.5"/>
<circle cx="1369.1" cy="937.4" r="5.6" fill="none" stroke="#3241d7" stroke-opacity="0.45" stroke-width="1.5"/>
<circle cx="1383.7" cy="939.2" r="5.6" fill="none" stroke="#3241d7" stroke-opacity="0.45" stroke-width="1.5"/>
<circle cx="1391.9" cy="945.1" r="5.6" fill="none" stroke="#3241d7" stroke-opacity="0.45" stroke-width="1.5"/>
<circle cx="1392.4" cy="955.6" r="5.6" fill="none" stroke="#3241d7" stroke-opacity="0.45" stroke-width="1.5"/>
<circle cx="1373.7" cy="965.7" r="5.6" fill="none" stroke="#3241d7" stroke-opacity="0.45" stroke-width="1.5"/>
<circle cx="1378.2" cy="971.6" r="5.6" fill="none" stroke="#3241d7" stroke-opacity="0.45" stroke-width="1.5"/>
<circle cx="1388.7" cy="967.5" r="5.6" fill="none" stroke="#3241d7" stroke-opacity="0.45" stroke-width="1.5"/>
<circle cx="1399.2" cy="972.5" r="5.6" fill="none" stroke="#3241d7" stroke-opacity="0.45" stroke-width="1.5"/>
<circle cx="1368.7" cy="975.7" r="5.6" fill="none" stroke="#3241d7" stroke-opacity="0.45" stroke-width="1.5"/>
<circle cx="1393.3" cy="978.4" r="5.6" fill="none" stroke="#3241d7" stroke-opacity="0.45" stroke-width="1.5"/>
<circle cx="1364.6" cy="983.4" r="5.6" fill="none" stroke="#3241d7" stroke-opacity="0.45" stroke-width="1.5"/>
<circle cx="1379.6" cy="984.8" r="5.6" fill="none" stroke="#3241d7" stroke-opacity="0.45" stroke-width="1.5"/>
<circle cx="1391.9" cy="988.9" r="5.6" fill="none" stroke="#3241d7" stroke-opacity="0.45" stroke-width="1.5"/>
<circle cx="1417.0" cy="976.1" r="5.6" fill="none" stroke="#3241d7" stroke-opacity="0.45" stroke-width="1.5"/>
<circle cx="1383.0" cy="997.8" r="5.6" fill="none" stroke="#3241d7" stroke-opacity="0.45" stroke-width="1.5"/>
<circle cx="1383.0" cy="1001.9" r="5.6" fill="none" stroke="#3241d7" stroke-opacity="0.45" stroke-width="1.5"/>
<circle cx="1392.1" cy="993.2" r="5.6" fill="none" stroke="#3241d7" stroke-opacity="0.45" stroke-width="1.5"/>
<circle cx="1392.1" cy="1006.9" r="5.6" fill="none" stroke="#3241d7" stroke-opacity="0.45" stroke-width="1.5"/>
<circle cx="1392.1" cy="1012.4" r="5.6" fill="none" stroke="#3241d7" stroke-opacity="0.45" stroke-width="1.5"/>
<circle cx="1392.6" cy="1025.6" r="5.6" fill="none" stroke="#3241d7" stroke-opacity="0.45" stroke-width="1.5"/>
<circle cx="1392.6" cy="1033.3" r="5.6" fill="none" stroke="#3241d7" stroke-opacity="0.45" stroke-width="1.5"/>
<circle cx="1392.6" cy="1037.4" r="5.6" fill="none" stroke="#3241d7" stroke-opacity="0.45" stroke-width="1.5"/>
<circle cx="1394.0" cy="1043.4" r="5.6" fill="none" stroke="#3241d7" stroke-opacity="0.45" stroke-width="1.5"/>
<circle cx="1388.0" cy="1051.1" r="5.6" fill="none" stroke="#3241d7" stroke-opacity="0.45" stroke-width="1.5"/>
<circle cx="1394.0" cy="1050.7" r="5.6" fill="none" stroke="#3241d7" stroke-opacity="0.45" stroke-width="1.5"/>
<circle cx="1416.3" cy="999.6" r="5.6" fill="none" stroke="#3241d7" stroke-opacity="0.45" stroke-width="1.5"/>
<circle cx="1415.8" cy="1005.1" r="5.6" fill="none" stroke="#3241d7" stroke-opacity="0.45" stroke-width="1.5"/>
<circle cx="1416.7" cy="1013.3" r="5.6" fill="none" stroke="#3241d7" stroke-opacity="0.45" stroke-width="1.5"/>
<circle cx="1415.8" cy="1020.6" r="5.6" fill="none" stroke="#3241d7" stroke-opacity="0.45" stroke-width="1.5"/>
<circle cx="1416.7" cy="1024.2" r="5.6" fill="none" stroke="#3241d7" stroke-opacity="0.45" stroke-width="1.5"/>
<circle cx="1422.2" cy="1020.6" r="5.6" fill="none" stroke="#3241d7" stroke-opacity="0.45" stroke-width="1.5"/>
<circle cx="1435.0" cy="1015.1" r="5.6" fill="none" stroke="#3241d7" stroke-opacity="0.45" stroke-width="1.5"/>
<circle cx="1440.8" cy="979.5" r="5.6" fill="none" stroke="#3241d7" stroke-opacity="0.45" stroke-width="1.5"/>
<circle cx="1440.5" cy="979.0" r="5.6" fill="none" stroke="#3241d7" stroke-opacity="0.45" stroke-width="1.5"/>
<circle cx="1441.0" cy="980.0" r="5.6" fill="none" stroke="#3241d7" stroke-opacity="0.45" stroke-width="1.5"/>
<circle cx="1440.8" cy="983.2" r="5.6" fill="none" stroke="#3241d7" stroke-opacity="0.45" stroke-width="1.5"/>
<circle cx="1440.8" cy="988.9" r="5.6" fill="none" stroke="#3241d7" stroke-opacity="0.45" stroke-width="1.5"/>
<circle cx="1440.8" cy="994.0" r="5.6" fill="none" stroke="#3241d7" stroke-opacity="0.45" stroke-width="1.5"/>
<circle cx="1440.8" cy="998.4" r="5.6" fill="none" stroke="#3241d7" stroke-opacity="0.45" stroke-width="1.5"/>
<circle cx="1440.8" cy="1002.0" r="5.6" fill="none" stroke="#3241d7" stroke-opacity="0.45" stroke-width="1.5"/>
<circle cx="1440.8" cy="1007.8" r="5.6" fill="none" stroke="#3241d7" stroke-opacity="0.45" stroke-width="1.5"/>
<circle cx="1439.5" cy="1012.8" r="5.6" fill="none" stroke="#3241d7" stroke-opacity="0.45" stroke-width="1.5"/>
<circle cx="1434.5" cy="1015.7" r="5.6" fill="none" stroke="#3241d7" stroke-opacity="0.45" stroke-width="1.5"/>
<circle cx="1444.6" cy="1012.1" r="5.6" fill="none" stroke="#3241d7" stroke-opacity="0.45" stroke-width="1.5"/>
<circle cx="1441.7" cy="1017.9" r="5.6" fill="none" stroke="#3241d7" stroke-opacity="0.45" stroke-width="1.5"/>
<circle cx="1440.3" cy="1029.5" r="5.6" fill="none" stroke="#3241d7" stroke-opacity="0.45" stroke-width="1.5"/>
<circle cx="1460.2" cy="981.0" r="5.6" fill="none" stroke="#3241d7" stroke-opacity="0.45" stroke-width="1.5"/>
<circle cx="1465.2" cy="1011.4" r="5.6" fill="none" stroke="#3241d7" stroke-opacity="0.45" stroke-width="1.5"/>
<circle cx="1489.8" cy="996.9" r="5.6" fill="none" stroke="#3241d7" stroke-opacity="0.45" stroke-width="1.5"/>
<circle cx="1008.7" cy="1175.6" r="5.6" fill="none" stroke="#3241d7" stroke-opacity="0.45" stroke-width="1.5"/>
<circle cx="1139.1" cy="1171.5" r="5.6" fill="none" stroke="#3241d7" stroke-opacity="0.45" stroke-width="1.5"/>
<circle cx="1171.5" cy="1166.0" r="5.6" fill="none" stroke="#3241d7" stroke-opacity="0.45" stroke-width="1.5"/>
<circle cx="1167.0" cy="1170.1" r="5.6" fill="none" stroke="#3241d7" stroke-opacity="0.45" stroke-width="1.5"/>
<circle cx="1161.9" cy="1181.1" r="5.6" fill="none" stroke="#3241d7" stroke-opacity="0.45" stroke-width="1.5"/>
<circle cx="1177.0" cy="1177.0" r="5.6" fill="none" stroke="#3241d7" stroke-opacity="0.45" stroke-width="1.5"/>
<circle cx="1185.7" cy="1182.0" r="5.6" fill="none" stroke="#3241d7" stroke-opacity="0.45" stroke-width="1.5"/>
<circle cx="1192.0" cy="1173.8" r="5.6" fill="none" stroke="#3241d7" stroke-opacity="0.45" stroke-width="1.5"/>
<circle cx="1191.6" cy="1176.1" r="5.6" fill="none" stroke="#3241d7" stroke-opacity="0.45" stroke-width="1.5"/>
<circle cx="1220.3" cy="1164.2" r="5.6" fill="none" stroke="#3241d7" stroke-opacity="0.45" stroke-width="1.5"/>
<circle cx="1247.8" cy="1161.1" r="5.6" fill="none" stroke="#3241d7" stroke-opacity="0.45" stroke-width="1.5"/>
<circle cx="1248.1" cy="1160.7" r="5.6" fill="none" stroke="#3241d7" stroke-opacity="0.45" stroke-width="1.5"/>
<circle cx="1247.5" cy="1161.6" r="5.6" fill="none" stroke="#3241d7" stroke-opacity="0.45" stroke-width="1.5"/>
<circle cx="1242.7" cy="1164.7" r="5.6" fill="none" stroke="#3241d7" stroke-opacity="0.45" stroke-width="1.5"/>
<circle cx="1248.5" cy="1169.1" r="5.6" fill="none" stroke="#3241d7" stroke-opacity="0.45" stroke-width="1.5"/>
<circle cx="1248.5" cy="1173.4" r="5.6" fill="none" stroke="#3241d7" stroke-opacity="0.45" stroke-width="1.5"/>
<circle cx="1243.4" cy="1177.8" r="5.6" fill="none" stroke="#3241d7" stroke-opacity="0.45" stroke-width="1.5"/>
<circle cx="1249.2" cy="1177.8" r="5.6" fill="none" stroke="#3241d7" stroke-opacity="0.45" stroke-width="1.5"/>
<circle cx="1238.4" cy="1187.2" r="5.6" fill="none" stroke="#3241d7" stroke-opacity="0.45" stroke-width="1.5"/>
<circle cx="1249.2" cy="1190.8" r="5.6" fill="none" stroke="#3241d7" stroke-opacity="0.45" stroke-width="1.5"/>
<circle cx="1248.9" cy="1191.2" r="5.6" fill="none" stroke="#3241d7" stroke-opacity="0.45" stroke-width="1.5"/>
<circle cx="1268.7" cy="1156.1" r="5.6" fill="none" stroke="#3241d7" stroke-opacity="0.45" stroke-width="1.5"/>
<circle cx="1273.2" cy="1166.6" r="5.6" fill="none" stroke="#3241d7" stroke-opacity="0.45" stroke-width="1.5"/>
<circle cx="1297.4" cy="1151.6" r="5.6" fill="none" stroke="#3241d7" stroke-opacity="0.45" stroke-width="1.5"/>
<circle cx="1296.0" cy="1156.6" r="5.6" fill="none" stroke="#3241d7" stroke-opacity="0.45" stroke-width="1.5"/>
<circle cx="1297.0" cy="1171.2" r="5.6" fill="none" stroke="#3241d7" stroke-opacity="0.45" stroke-width="1.5"/>
<circle cx="1302.4" cy="1170.7" r="5.6" fill="none" stroke="#3241d7" stroke-opacity="0.45" stroke-width="1.5"/>
<circle cx="1295.5" cy="1180.7" r="5.6" fill="none" stroke="#3241d7" stroke-opacity="0.45" stroke-width="1.5"/>
<circle cx="1307.0" cy="1184.2" r="5.6" fill="none" stroke="#3241d7" stroke-opacity="0.45" stroke-width="1.5"/>
<circle cx="1307.0" cy="1187.3" r="5.6" fill="none" stroke="#3241d7" stroke-opacity="0.45" stroke-width="1.5"/>
<circle cx="1296.5" cy="1191.9" r="5.6" fill="none" stroke="#3241d7" stroke-opacity="0.45" stroke-width="1.5"/>
<circle cx="1316.1" cy="1146.1" r="5.6" fill="none" stroke="#3241d7" stroke-opacity="0.45" stroke-width="1.5"/>
<circle cx="1315.7" cy="1159.8" r="5.6" fill="none" stroke="#3241d7" stroke-opacity="0.45" stroke-width="1.5"/>
<circle cx="1325.2" cy="1160.7" r="5.6" fill="none" stroke="#3241d7" stroke-opacity="0.45" stroke-width="1.5"/>
<circle cx="1321.6" cy="1180.5" r="5.6" fill="none" stroke="#3241d7" stroke-opacity="0.45" stroke-width="1.5"/>
<circle cx="1321.6" cy="1192.4" r="5.6" fill="none" stroke="#3241d7" stroke-opacity="0.45" stroke-width="1.5"/>
<circle cx="1330.2" cy="1201.5" r="5.6" fill="none" stroke="#3241d7" stroke-opacity="0.45" stroke-width="1.5"/>
<circle cx="1343.9" cy="1135.6" r="5.6" fill="none" stroke="#3241d7" stroke-opacity="0.45" stroke-width="1.5"/>
<circle cx="1344.4" cy="1139.3" r="5.6" fill="none" stroke="#3241d7" stroke-opacity="0.45" stroke-width="1.5"/>
<circle cx="1339.8" cy="1143.8" r="5.6" fill="none" stroke="#3241d7" stroke-opacity="0.45" stroke-width="1.5"/>
<circle cx="1348.9" cy="1141.5" r="5.6" fill="none" stroke="#3241d7" stroke-opacity="0.45" stroke-width="1.5"/>
<circle cx="1344.8" cy="1157.0" r="5.6" fill="none" stroke="#3241d7" stroke-opacity="0.45" stroke-width="1.5"/>
<circle cx="1354.9" cy="1157.9" r="5.6" fill="none" stroke="#3241d7" stroke-opacity="0.45" stroke-width="1.5"/>
<circle cx="1343.9" cy="1171.2" r="5.6" fill="none" stroke="#3241d7" stroke-opacity="0.45" stroke-width="1.5"/>
<circle cx="1340.3" cy="1182.8" r="5.6" fill="none" stroke="#3241d7" stroke-opacity="0.45" stroke-width="1.5"/>
<circle cx="1344.8" cy="1179.6" r="5.6" fill="none" stroke="#3241d7" stroke-opacity="0.45" stroke-width="1.5"/>
<circle cx="1345.3" cy="1185.1" r="5.6" fill="none" stroke="#3241d7" stroke-opacity="0.45" stroke-width="1.5"/>
<circle cx="1344.8" cy="1191.5" r="5.6" fill="none" stroke="#3241d7" stroke-opacity="0.45" stroke-width="1.5"/>
<circle cx="1345.3" cy="1201.5" r="5.6" fill="none" stroke="#3241d7" stroke-opacity="0.45" stroke-width="1.5"/>
<circle cx="1341.2" cy="1207.4" r="5.6" fill="none" stroke="#3241d7" stroke-opacity="0.45" stroke-width="1.5"/>
<circle cx="1343.9" cy="1210.6" r="5.6" fill="none" stroke="#3241d7" stroke-opacity="0.45" stroke-width="1.5"/>
<circle cx="1340.3" cy="1221.1" r="5.6" fill="none" stroke="#3241d7" stroke-opacity="0.45" stroke-width="1.5"/>
<circle cx="1349.9" cy="1218.8" r="5.6" fill="none" stroke="#3241d7" stroke-opacity="0.45" stroke-width="1.5"/>
<circle cx="1350.3" cy="1221.1" r="5.6" fill="none" stroke="#3241d7" stroke-opacity="0.45" stroke-width="1.5"/>
<circle cx="1368.6" cy="1116.5" r="5.6" fill="none" stroke="#3241d7" stroke-opacity="0.45" stroke-width="1.5"/>
<circle cx="1369.0" cy="1138.3" r="5.6" fill="none" stroke="#3241d7" stroke-opacity="0.45" stroke-width="1.5"/>
<circle cx="1369.0" cy="1142.9" r="5.6" fill="none" stroke="#3241d7" stroke-opacity="0.45" stroke-width="1.5"/>
<circle cx="1369.0" cy="1146.5" r="5.6" fill="none" stroke="#3241d7" stroke-opacity="0.45" stroke-width="1.5"/>
<circle cx="1368.1" cy="1157.0" r="5.6" fill="none" stroke="#3241d7" stroke-opacity="0.45" stroke-width="1.5"/>
<circle cx="1368.6" cy="1168.4" r="5.6" fill="none" stroke="#3241d7" stroke-opacity="0.45" stroke-width="1.5"/>
<circle cx="1364.0" cy="1178.2" r="5.6" fill="none" stroke="#3241d7" stroke-opacity="0.45" stroke-width="1.5"/>
<circle cx="1369.5" cy="1177.3" r="5.6" fill="none" stroke="#3241d7" stroke-opacity="0.45" stroke-width="1.5"/>
<circle cx="1363.5" cy="1188.3" r="5.6" fill="none" stroke="#3241d7" stroke-opacity="0.45" stroke-width="1.5"/>
<circle cx="1368.6" cy="1188.7" r="5.6" fill="none" stroke="#3241d7" stroke-opacity="0.45" stroke-width="1.5"/>
<circle cx="1369.0" cy="1192.4" r="5.6" fill="none" stroke="#3241d7" stroke-opacity="0.45" stroke-width="1.5"/>
<circle cx="1367.2" cy="1196.0" r="5.6" fill="none" stroke="#3241d7" stroke-opacity="0.45" stroke-width="1.5"/>
<circle cx="1364.0" cy="1200.6" r="5.6" fill="none" stroke="#3241d7" stroke-opacity="0.45" stroke-width="1.5"/>
<circle cx="1369.0" cy="1213.3" r="5.6" fill="none" stroke="#3241d7" stroke-opacity="0.45" stroke-width="1.5"/>
<circle cx="1369.0" cy="1217.9" r="5.6" fill="none" stroke="#3241d7" stroke-opacity="0.45" stroke-width="1.5"/>
<circle cx="1379.0" cy="1225.7" r="5.6" fill="none" stroke="#3241d7" stroke-opacity="0.45" stroke-width="1.5"/>
<circle cx="1368.1" cy="1233.9" r="5.6" fill="none" stroke="#3241d7" stroke-opacity="0.45" stroke-width="1.5"/>
<circle cx="1383.6" cy="1123.7" r="5.6" fill="none" stroke="#3241d7" stroke-opacity="0.45" stroke-width="1.5"/>
<circle cx="1391.8" cy="1111.0" r="5.6" fill="none" stroke="#3241d7" stroke-opacity="0.45" stroke-width="1.5"/>
<circle cx="1391.4" cy="1139.3" r="5.6" fill="none" stroke="#3241d7" stroke-opacity="0.45" stroke-width="1.5"/>
<circle cx="1394.0" cy="1125.6" r="5.6" fill="none" stroke="#3241d7" stroke-opacity="0.45" stroke-width="1.5"/>
<circle cx="1412.2" cy="1118.4" r="5.6" fill="none" stroke="#3241d7" stroke-opacity="0.45" stroke-width="1.5"/>
<circle cx="1416.4" cy="1137.4" r="5.6" fill="none" stroke="#3241d7" stroke-opacity="0.45" stroke-width="1.5"/>
<circle cx="1396.9" cy="1141.7" r="5.6" fill="none" stroke="#3241d7" stroke-opacity="0.45" stroke-width="1.5"/>
<circle cx="1399.1" cy="1145.9" r="5.6" fill="none" stroke="#3241d7" stroke-opacity="0.45" stroke-width="1.5"/>
<circle cx="1400.3" cy="1150.1" r="5.6" fill="none" stroke="#3241d7" stroke-opacity="0.45" stroke-width="1.5"/>
<circle cx="1403.3" cy="1153.1" r="5.6" fill="none" stroke="#3241d7" stroke-opacity="0.45" stroke-width="1.5"/>
<circle cx="1411.3" cy="1152.7" r="5.6" fill="none" stroke="#3241d7" stroke-opacity="0.45" stroke-width="1.5"/>
<circle cx="1422.3" cy="1152.7" r="5.6" fill="none" stroke="#3241d7" stroke-opacity="0.45" stroke-width="1.5"/>
<circle cx="1424.5" cy="1152.2" r="5.6" fill="none" stroke="#3241d7" stroke-opacity="0.45" stroke-width="1.5"/>
<circle cx="1430.8" cy="1125.1" r="5.6" fill="none" stroke="#3241d7" stroke-opacity="0.45" stroke-width="1.5"/>
<circle cx="1431.2" cy="1133.6" r="5.6" fill="none" stroke="#3241d7" stroke-opacity="0.45" stroke-width="1.5"/>
<circle cx="1441.8" cy="1102.7" r="5.6" fill="none" stroke="#3241d7" stroke-opacity="0.45" stroke-width="1.5"/>
<circle cx="1446.9" cy="1108.2" r="5.6" fill="none" stroke="#3241d7" stroke-opacity="0.45" stroke-width="1.5"/>
<circle cx="1439.3" cy="1111.2" r="5.6" fill="none" stroke="#3241d7" stroke-opacity="0.45" stroke-width="1.5"/>
<circle cx="1440.6" cy="1117.9" r="5.6" fill="none" stroke="#3241d7" stroke-opacity="0.45" stroke-width="1.5"/>
<circle cx="1440.6" cy="1120.5" r="5.6" fill="none" stroke="#3241d7" stroke-opacity="0.45" stroke-width="1.5"/>
<circle cx="1454.5" cy="1126.8" r="5.6" fill="none" stroke="#3241d7" stroke-opacity="0.45" stroke-width="1.5"/>
<circle cx="1445.6" cy="1133.2" r="5.6" fill="none" stroke="#3241d7" stroke-opacity="0.45" stroke-width="1.5"/>
<circle cx="1441.0" cy="1144.2" r="5.6" fill="none" stroke="#3241d7" stroke-opacity="0.45" stroke-width="1.5"/>
<circle cx="1439.3" cy="1148.4" r="5.6" fill="none" stroke="#3241d7" stroke-opacity="0.45" stroke-width="1.5"/>
<circle cx="1435.9" cy="1151.0" r="5.6" fill="none" stroke="#3241d7" stroke-opacity="0.45" stroke-width="1.5"/>
<circle cx="1469.8" cy="1111.2" r="5.6" fill="none" stroke="#3241d7" stroke-opacity="0.45" stroke-width="1.5"/>
<circle cx="1464.3" cy="1146.3" r="5.6" fill="none" stroke="#3241d7" stroke-opacity="0.45" stroke-width="1.5"/>
<circle cx="1464.7" cy="1157.8" r="5.6" fill="none" stroke="#3241d7" stroke-opacity="0.45" stroke-width="1.5"/>
<circle cx="1464.7" cy="1166.2" r="5.6" fill="none" stroke="#3241d7" stroke-opacity="0.45" stroke-width="1.5"/>
<circle cx="1450.3" cy="1157.8" r="5.6" fill="none" stroke="#3241d7" stroke-opacity="0.45" stroke-width="1.5"/>
<circle cx="1440.6" cy="1164.5" r="5.6" fill="none" stroke="#3241d7" stroke-opacity="0.45" stroke-width="1.5"/>
<circle cx="1440.6" cy="1167.5" r="5.6" fill="none" stroke="#3241d7" stroke-opacity="0.45" stroke-width="1.5"/>
<circle cx="1420.6" cy="1173.0" r="5.6" fill="none" stroke="#3241d7" stroke-opacity="0.45" stroke-width="1.5"/>
<circle cx="1464.7" cy="1176.9" r="5.6" fill="none" stroke="#3241d7" stroke-opacity="0.45" stroke-width="1.5"/>
<circle cx="1465.5" cy="1179.5" r="5.6" fill="none" stroke="#3241d7" stroke-opacity="0.45" stroke-width="1.5"/>
<circle cx="1440.1" cy="1181.2" r="5.6" fill="none" stroke="#3241d7" stroke-opacity="0.45" stroke-width="1.5"/>
<circle cx="1435.0" cy="1184.6" r="5.6" fill="none" stroke="#3241d7" stroke-opacity="0.45" stroke-width="1.5"/>
<circle cx="1440.6" cy="1188.8" r="5.6" fill="none" stroke="#3241d7" stroke-opacity="0.45" stroke-width="1.5"/>
<circle cx="1440.6" cy="1201.5" r="5.6" fill="none" stroke="#3241d7" stroke-opacity="0.45" stroke-width="1.5"/>
<circle cx="1446.1" cy="1200.7" r="5.6" fill="none" stroke="#3241d7" stroke-opacity="0.45" stroke-width="1.5"/>
<circle cx="1415.6" cy="1198.1" r="5.6" fill="none" stroke="#3241d7" stroke-opacity="0.45" stroke-width="1.5"/>
<circle cx="1419.8" cy="1199.8" r="5.6" fill="none" stroke="#3241d7" stroke-opacity="0.45" stroke-width="1.5"/>
<circle cx="1424.0" cy="1202.3" r="5.6" fill="none" stroke="#3241d7" stroke-opacity="0.45" stroke-width="1.5"/>
<circle cx="1425.7" cy="1210.8" r="5.6" fill="none" stroke="#3241d7" stroke-opacity="0.45" stroke-width="1.5"/>
<circle cx="1434.2" cy="1212.5" r="5.6" fill="none" stroke="#3241d7" stroke-opacity="0.45" stroke-width="1.5"/>
<circle cx="1439.3" cy="1213.4" r="5.6" fill="none" stroke="#3241d7" stroke-opacity="0.45" stroke-width="1.5"/>
<circle cx="1450.7" cy="1218.4" r="5.6" fill="none" stroke="#3241d7" stroke-opacity="0.45" stroke-width="1.5"/>
<circle cx="1465.1" cy="1207.4" r="5.6" fill="none" stroke="#3241d7" stroke-opacity="0.45" stroke-width="1.5"/>
<circle cx="1463.8" cy="1215.9" r="5.6" fill="none" stroke="#3241d7" stroke-opacity="0.45" stroke-width="1.5"/>
<circle cx="1463.8" cy="1222.7" r="5.6" fill="none" stroke="#3241d7" stroke-opacity="0.45" stroke-width="1.5"/>
<circle cx="1439.7" cy="1227.7" r="5.6" fill="none" stroke="#3241d7" stroke-opacity="0.45" stroke-width="1.5"/>
<circle cx="1441.0" cy="1237.1" r="5.6" fill="none" stroke="#3241d7" stroke-opacity="0.45" stroke-width="1.5"/>
<circle cx="1441.2" cy="1236.7" r="5.6" fill="none" stroke="#3241d7" stroke-opacity="0.45" stroke-width="1.5"/>
<circle cx="1441.4" cy="1243.8" r="5.6" fill="none" stroke="#3241d7" stroke-opacity="0.45" stroke-width="1.5"/>
<circle cx="1459.2" cy="1248.5" r="5.6" fill="none" stroke="#3241d7" stroke-opacity="0.45" stroke-width="1.5"/>
<circle cx="1407.5" cy="1241.7" r="5.6" fill="none" stroke="#3241d7" stroke-opacity="0.45" stroke-width="1.5"/>
<circle cx="1391.8" cy="1228.8" r="5.6" fill="none" stroke="#3241d7" stroke-opacity="0.45" stroke-width="1.5"/>
<circle cx="1399.5" cy="1185.4" r="5.6" fill="none" stroke="#3241d7" stroke-opacity="0.45" stroke-width="1.5"/>
<circle cx="1400.3" cy="1197.7" r="5.6" fill="none" stroke="#3241d7" stroke-opacity="0.45" stroke-width="1.5"/>
<circle cx="1399.5" cy="1210.8" r="5.6" fill="none" stroke="#3241d7" stroke-opacity="0.45" stroke-width="1.5"/>
<circle cx="1399.5" cy="1219.3" r="5.6" fill="none" stroke="#3241d7" stroke-opacity="0.45" stroke-width="1.5"/>
<circle cx="1390.0" cy="1199.7" r="5.6" fill="none" stroke="#3241d7" stroke-opacity="0.45" stroke-width="1.5"/>
<circle cx="1390.9" cy="1207.9" r="5.6" fill="none" stroke="#3241d7" stroke-opacity="0.45" stroke-width="1.5"/>
<circle cx="1390.0" cy="1217.9" r="5.6" fill="none" stroke="#3241d7" stroke-opacity="0.45" stroke-width="1.5"/>
<circle cx="1488.8" cy="1112.9" r="5.6" fill="none" stroke="#3241d7" stroke-opacity="0.45" stroke-width="1.5"/>
<circle cx="1488.6" cy="1112.5" r="5.6" fill="none" stroke="#3241d7" stroke-opacity="0.45" stroke-width="1.5"/>
<circle cx="1489.0" cy="1113.3" r="5.6" fill="none" stroke="#3241d7" stroke-opacity="0.45" stroke-width="1.5"/>
<circle cx="1488.8" cy="1114.6" r="5.6" fill="none" stroke="#3241d7" stroke-opacity="0.45" stroke-width="1.5"/>
<circle cx="1488.8" cy="1129.0" r="5.6" fill="none" stroke="#3241d7" stroke-opacity="0.45" stroke-width="1.5"/>
<circle cx="1488.8" cy="1142.5" r="5.6" fill="none" stroke="#3241d7" stroke-opacity="0.45" stroke-width="1.5"/>
<circle cx="1488.8" cy="1149.3" r="5.6" fill="none" stroke="#3241d7" stroke-opacity="0.45" stroke-width="1.5"/>
<circle cx="1488.8" cy="1155.2" r="5.6" fill="none" stroke="#3241d7" stroke-opacity="0.45" stroke-width="1.5"/>
<circle cx="1488.6" cy="1155.6" r="5.6" fill="none" stroke="#3241d7" stroke-opacity="0.45" stroke-width="1.5"/>
<circle cx="1488.8" cy="1166.8" r="5.6" fill="none" stroke="#3241d7" stroke-opacity="0.45" stroke-width="1.5"/>
<circle cx="1488.6" cy="1167.2" r="5.6" fill="none" stroke="#3241d7" stroke-opacity="0.45" stroke-width="1.5"/>
<circle cx="1488.8" cy="1173.8" r="5.6" fill="none" stroke="#3241d7" stroke-opacity="0.45" stroke-width="1.5"/>
<circle cx="1488.8" cy="1179.0" r="5.6" fill="none" stroke="#3241d7" stroke-opacity="0.45" stroke-width="1.5"/>
<circle cx="1488.6" cy="1179.4" r="5.6" fill="none" stroke="#3241d7" stroke-opacity="0.45" stroke-width="1.5"/>
<circle cx="1488.8" cy="1185.4" r="5.6" fill="none" stroke="#3241d7" stroke-opacity="0.45" stroke-width="1.5"/>
<circle cx="1488.8" cy="1198.1" r="5.6" fill="none" stroke="#3241d7" stroke-opacity="0.45" stroke-width="1.5"/>
<circle cx="1488.6" cy="1198.5" r="5.6" fill="none" stroke="#3241d7" stroke-opacity="0.45" stroke-width="1.5"/>
<circle cx="1488.8" cy="1212.5" r="5.6" fill="none" stroke="#3241d7" stroke-opacity="0.45" stroke-width="1.5"/>
<circle cx="1488.6" cy="1212.9" r="5.6" fill="none" stroke="#3241d7" stroke-opacity="0.45" stroke-width="1.5"/>
<circle cx="1488.8" cy="1217.6" r="5.6" fill="none" stroke="#3241d7" stroke-opacity="0.45" stroke-width="1.5"/>
<circle cx="1488.6" cy="1218.0" r="5.6" fill="none" stroke="#3241d7" stroke-opacity="0.45" stroke-width="1.5"/>
<circle cx="1488.8" cy="1222.7" r="5.6" fill="none" stroke="#3241d7" stroke-opacity="0.45" stroke-width="1.5"/>
<circle cx="1488.6" cy="1223.1" r="5.6" fill="none" stroke="#3241d7" stroke-opacity="0.45" stroke-width="1.5"/>
<circle cx="1488.8" cy="1227.7" r="5.6" fill="none" stroke="#3241d7" stroke-opacity="0.45" stroke-width="1.5"/>
<circle cx="1488.8" cy="1232.0" r="5.6" fill="none" stroke="#3241d7" stroke-opacity="0.45" stroke-width="1.5"/>
<circle cx="1248.6" cy="933.5" r="5.6" fill="none" stroke="#3241d7" stroke-opacity="0.45" stroke-width="1.5"/>
<circle cx="1248.4" cy="933.9" r="5.6" fill="none" stroke="#3241d7" stroke-opacity="0.45" stroke-width="1.5"/>
<circle cx="1248.4" cy="957.0" r="5.6" fill="none" stroke="#3241d7" stroke-opacity="0.45" stroke-width="1.5"/>
<circle cx="1248.4" cy="962.0" r="5.6" fill="none" stroke="#3241d7" stroke-opacity="0.45" stroke-width="1.5"/>
<circle cx="1248.4" cy="1013.3" r="5.6" fill="none" stroke="#3241d7" stroke-opacity="0.45" stroke-width="1.5"/>
<circle cx="1248.2" cy="1012.9" r="5.6" fill="none" stroke="#3241d7" stroke-opacity="0.45" stroke-width="1.5"/>
<circle cx="1297.2" cy="1032.8" r="5.6" fill="none" stroke="#3241d7" stroke-opacity="0.45" stroke-width="1.5"/>
<circle cx="1320.0" cy="1069.6" r="5.6" fill="none" stroke="#3241d7" stroke-opacity="0.45" stroke-width="1.5"/>
<circle cx="1204.9" cy="986.2" r="5.6" fill="none" stroke="#3241d7" stroke-opacity="0.45" stroke-width="1.5"/>
<circle cx="1344.8" cy="1030.2" r="5.6" fill="none" stroke="#3241d7" stroke-opacity="0.45" stroke-width="1.5"/>
<circle cx="1353.9" cy="1031.5" r="5.6" fill="none" stroke="#3241d7" stroke-opacity="0.45" stroke-width="1.5"/>
<circle cx="1344.8" cy="1069.3" r="5.6" fill="none" stroke="#3241d7" stroke-opacity="0.45" stroke-width="1.5"/>
<circle cx="1488.8" cy="1108.5" r="5.6" fill="none" stroke="#3241d7" stroke-opacity="0.45" stroke-width="1.5"/>
<circle cx="1488.8" cy="1118.0" r="5.6" fill="none" stroke="#3241d7" stroke-opacity="0.45" stroke-width="1.5"/>
<circle cx="1488.8" cy="1136.0" r="5.6" fill="none" stroke="#3241d7" stroke-opacity="0.45" stroke-width="1.5"/>
<circle cx="1488.8" cy="1145.0" r="5.6" fill="none" stroke="#3241d7" stroke-opacity="0.45" stroke-width="1.5"/>
<circle cx="1488.8" cy="1152.0" r="5.6" fill="none" stroke="#3241d7" stroke-opacity="0.45" stroke-width="1.5"/>
<circle cx="1488.8" cy="1160.0" r="5.6" fill="none" stroke="#3241d7" stroke-opacity="0.45" stroke-width="1.5"/>
<circle cx="1488.8" cy="1170.0" r="5.6" fill="none" stroke="#3241d7" stroke-opacity="0.45" stroke-width="1.5"/>
<circle cx="1488.8" cy="1190.0" r="5.6" fill="none" stroke="#3241d7" stroke-opacity="0.45" stroke-width="1.5"/>
<circle cx="1488.8" cy="1203.0" r="5.6" fill="none" stroke="#3241d7" stroke-opacity="0.45" stroke-width="1.5"/>
<circle cx="1488.8" cy="1207.0" r="5.6" fill="none" stroke="#3241d7" stroke-opacity="0.45" stroke-width="1.5"/>
<circle cx="1488.8" cy="1210.0" r="5.6" fill="none" stroke="#3241d7" stroke-opacity="0.45" stroke-width="1.5"/>
<circle cx="1488.8" cy="1220.0" r="5.6" fill="none" stroke="#3241d7" stroke-opacity="0.45" stroke-width="1.5"/>
<circle cx="1488.8" cy="1225.0" r="5.6" fill="none" stroke="#3241d7" stroke-opacity="0.45" stroke-width="1.5"/>
<circle cx="1488.8" cy="1236.0" r="5.6" fill="none" stroke="#3241d7" stroke-opacity="0.45" stroke-width="1.5"/>
<circle cx="1248.5" cy="1168.0" r="5.6" fill="none" stroke="#3241d7" stroke-opacity="0.45" stroke-width="1.5"/>
<circle cx="1248.3" cy="1178.5" r="5.6" fill="none" stroke="#3241d7" stroke-opacity="0.45" stroke-width="1.5"/>
<circle cx="1248.6" cy="1190.0" r="5.6" fill="none" stroke="#3241d7" stroke-opacity="0.45" stroke-width="1.5"/>
<circle cx="1248.0" cy="1161.5" r="5.6" fill="none" stroke="#3241d7" stroke-opacity="0.45" stroke-width="1.5"/>
<circle cx="1161.9" cy="1181.3" r="5.6" fill="none" stroke="#3241d7" stroke-opacity="0.45" stroke-width="1.5"/>
<circle cx="1191.8" cy="1175.9" r="5.6" fill="none" stroke="#3241d7" stroke-opacity="0.45" stroke-width="1.5"/>
<path d="M1320.2 945.8V1052.5" stroke="#000" stroke-width="3.7"/>
<path d="M1314.9 981.1V1017.2M1325.7 981.1V1017.2M1314.9 998.9H1325.7" stroke="#000" stroke-width="3.6" fill="none"/>
<path d="M1391.4 1122.5V1227.5" stroke="#000" stroke-width="3.7"/>
<path d="M1384.6 1157.2V1191.9M1397.6 1157.2V1191.9M1384.6 1174.8H1397.6" stroke="#000" stroke-width="3.6" fill="none"/>
<path d="M1528.9 5V818" stroke="#e2a6a8" stroke-width="1.6"/>
<path d="M1528.9 818V1376" stroke="#f2caca" stroke-width="1.6"/>
</svg></body></html>
